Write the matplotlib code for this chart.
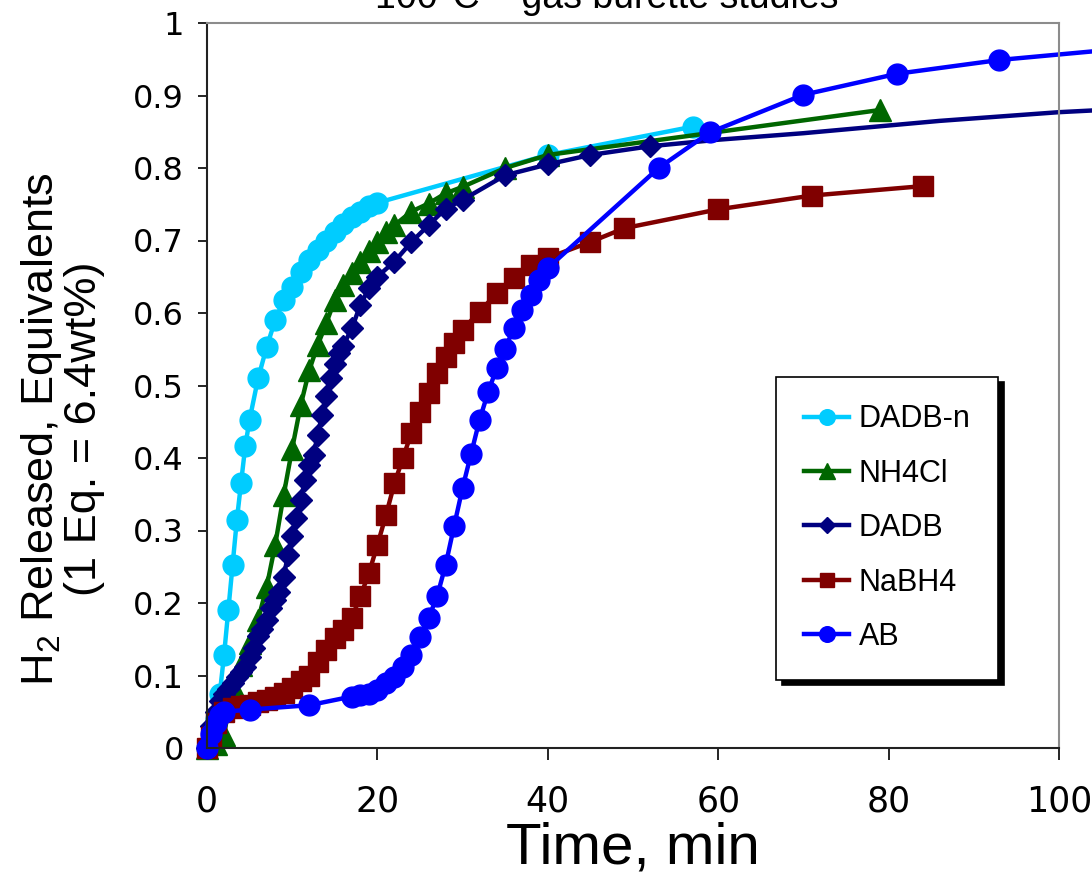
import numpy as np
import matplotlib
matplotlib.use('Agg')
import matplotlib.pyplot as plt

plt.rcParams['font.family'] = ['Liberation Sans', 'DejaVu Sans']
plt.rcParams['mathtext.fontset'] = 'custom'
plt.rcParams['mathtext.rm'] = 'Liberation Sans'
plt.rcParams['mathtext.it'] = 'Liberation Sans:italic'

# ---- data (time in min, H2 equivalents) ----
dadbn_t = [0, 1, 1.5, 2, 2.5, 3, 3.5, 4, 4.5, 5, 6, 7, 8, 9, 10, 11, 12, 13, 14,
           15, 16, 17, 18, 19, 20, 40, 57]
dadbn_v = [0, 0.04, 0.075, 0.128, 0.19, 0.252, 0.314, 0.366, 0.417, 0.453, 0.51,
           0.553, 0.59, 0.618, 0.636, 0.657, 0.673, 0.687, 0.70, 0.712, 0.723,
           0.733, 0.740, 0.747, 0.752, 0.818, 0.857]

nh4cl_t = [0, 1, 2, 3, 4, 5, 6, 7, 8, 9, 10, 11, 12, 13, 14, 15, 16, 17, 18, 19,
           20, 21, 22, 24, 26, 28, 30, 35, 40, 79]
nh4cl_v = [0, 0.005, 0.018, 0.085, 0.115, 0.145, 0.177, 0.222, 0.28, 0.349, 0.413,
           0.473, 0.521, 0.556, 0.586, 0.618, 0.639, 0.655, 0.671, 0.685, 0.698,
           0.712, 0.721, 0.740, 0.751, 0.765, 0.774, 0.80, 0.818, 0.88]

dadb_t = [0, 0.5, 1, 1.5, 2, 2.5, 3, 3.5, 4, 4.5, 5, 5.5, 6, 6.5, 7, 7.5, 8, 8.5,
          9, 9.5, 10, 10.5, 11, 11.5, 12, 12.5, 13, 13.5, 14, 14.5, 15, 15.5, 16,
          17, 18, 19, 20, 22, 24, 26, 28, 30, 35, 40, 45, 52,
          60, 70, 86, 100, 105]
dadb_v = [0, 0.03, 0.05, 0.065, 0.075, 0.082, 0.09, 0.098, 0.105, 0.112, 0.125,
          0.138, 0.154, 0.164, 0.176, 0.193, 0.204, 0.215, 0.236, 0.266, 0.292,
          0.317, 0.342, 0.37, 0.39, 0.404, 0.432, 0.459, 0.485, 0.51, 0.53, 0.545,
          0.555, 0.579, 0.611, 0.634, 0.650, 0.671, 0.698, 0.721, 0.744, 0.756,
          0.790, 0.805, 0.818, 0.830,
          0.839, 0.848, 0.865, 0.877, 0.880]
dadb_last_marker = 52

nabh4_t = [0, 0.5, 1, 2, 3, 4, 5, 6, 7, 8, 9, 10, 11, 12, 13, 14, 15, 16, 17, 18,
           19, 20, 21, 22, 23, 24, 25, 26, 27, 28, 29, 30, 32, 34, 36, 38, 40, 45,
           49, 60, 71, 84]
nabh4_v = [0, 0.015, 0.035, 0.05, 0.055, 0.058, 0.06, 0.063, 0.066, 0.07, 0.076,
           0.083, 0.092, 0.10, 0.119, 0.135, 0.152, 0.163, 0.18, 0.209, 0.241,
           0.28, 0.321, 0.365, 0.40, 0.435, 0.464, 0.489, 0.517, 0.54, 0.558,
           0.577, 0.602, 0.627, 0.648, 0.666, 0.676, 0.698, 0.717, 0.743, 0.762,
           0.775]

ab_t = [0, 0.5, 1, 1.5, 2, 5, 12, 17, 18, 19, 20, 21, 22, 23, 24, 25, 26, 27, 28,
        29, 30, 31, 32, 33, 34, 35, 36, 37, 38, 39, 40, 53, 59, 70, 81, 93, 105]
ab_v = [0, 0.02, 0.035, 0.045, 0.05, 0.053, 0.059, 0.071, 0.073, 0.075, 0.080,
        0.089, 0.098, 0.112, 0.128, 0.153, 0.179, 0.209, 0.252, 0.306, 0.359,
        0.406, 0.453, 0.491, 0.524, 0.551, 0.579, 0.604, 0.625, 0.645, 0.662,
        0.80, 0.849, 0.901, 0.930, 0.949, 0.962]
ab_last_marker = 93

x_ticks = [0, 20, 40, 60, 80, 100]
y_ticks = [0, 0.1, 0.2, 0.3, 0.4, 0.5, 0.6, 0.7, 0.8, 0.9, 1]
y_ticklabels = ['0', '0.1', '0.2', '0.3', '0.4', '0.5', '0.6', '0.7', '0.8', '0.9', '1']

fig = plt.figure(figsize=(10.92, 8.81), dpi=100)
ax = fig.add_axes([207 / 1092, 1 - 748 / 881, 852 / 1092, 725 / 881])


def marks_upto(t, last):
    return [i for i, x in enumerate(t) if x <= last]


ax.plot(dadbn_t, dadbn_v, color='#00CCFF', lw=3.2, marker='o', ms=15,
        label='DADB-n', clip_on=False)
ax.plot(nh4cl_t, nh4cl_v, color='#006600', lw=3.2, marker='^', ms=15.5,
        label='NH4Cl', clip_on=False)
ax.plot(dadb_t, dadb_v, color='#000080', lw=3.2, marker='D', ms=11.5,
        markevery=marks_upto(dadb_t, dadb_last_marker), label='DADB', clip_on=False)
ax.plot(nabh4_t, nabh4_v, color='#800000', lw=3.2, marker='s', ms=14,
        label='NaBH4', clip_on=False)
ax.plot(ab_t, ab_v, color='#0000FF', lw=3.2, marker='o', ms=15,
        markevery=marks_upto(ab_t, ab_last_marker), label='AB', clip_on=False)

ax.set_xlim(0, 100)
ax.set_ylim(0, 1)
ax.set_xticks(x_ticks)
ax.set_xticklabels([str(x) for x in x_ticks], fontfamily='DejaVu Sans', fontsize=25)
ax.set_yticks(y_ticks)
ax.set_yticklabels(y_ticklabels, fontfamily='DejaVu Sans', fontsize=23)
ax.tick_params(axis='x', direction='out', length=8.5, width=1.2, pad=18)
ax.tick_params(axis='y', direction='out', length=6.5, width=1.2, pad=10)

for side in ('top', 'right'):
    ax.spines[side].set_color('#8c8c8c')
    ax.spines[side].set_linewidth(1.5)
for side in ('left', 'bottom'):
    ax.spines[side].set_color('#222222')
    ax.spines[side].set_linewidth(1.5)

ax.set_xlabel('Time, min', fontsize=42, labelpad=2)
ax.set_ylabel('H$_{\\mathrm{2}}$ Released, Equivalents\n(1 Eq. = 6.4wt%)',
              fontsize=32.5, linespacing=1.0)
ax.yaxis.set_label_coords(-0.12, 0.44)

fig.text(0.556, 1 - 8 / 881, '100\u00b0C \u2013 gas burette studies',
         ha='center', va='baseline', fontsize=27)

leg = ax.legend(loc='upper left', bbox_to_anchor=(0.668, 0.512),
                borderaxespad=0, fontsize=22, frameon=True, fancybox=False,
                edgecolor='black', markerscale=0.75, handlelength=1.5,
                handletextpad=0.3, labelspacing=0.8, borderpad=0.9,
                shadow={'ox': 4, 'oy': -4, 'facecolor': 'black',
                        'edgecolor': 'black', 'alpha': 1})
leg.get_frame().set_linewidth(1.2)

fig.savefig('out.png', dpi=100)
